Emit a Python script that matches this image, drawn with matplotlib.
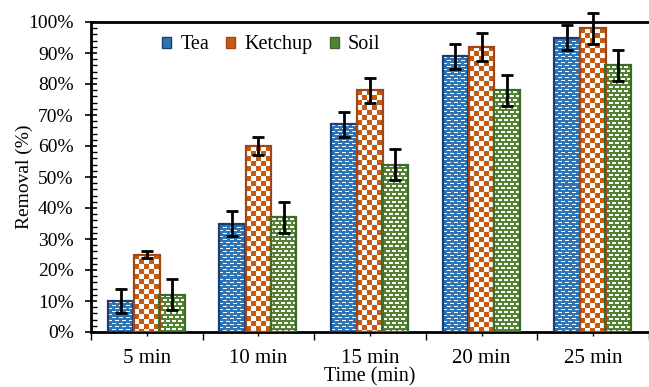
import numpy as np
import matplotlib
matplotlib.use("Agg")
import matplotlib.pyplot as plt
from matplotlib.patches import Patch
from matplotlib.ticker import MultipleLocator, PercentFormatter, FixedLocator

categories = ["5 min", "10 min", "15 min", "20 min", "25 min"]
series_names = ["Tea", "Ketchup", "Soil"]
tea = [10, 35, 67, 89, 95]
tea_err = [4, 4, 4, 4, 4]
ketchup = [25, 60, 78, 92, 98]
ketchup_err = [1, 3, 4, 4.5, 5]
soil = [12, 37, 54, 78, 86]
soil_err = [5, 5, 5, 5, 5]

FACE = {"Tea": "#2E75B6", "Ketchup": "#C55A11", "Soil": "#548235"}
EDGE = {"Tea": "#1F3A6E", "Ketchup": "#A0461A", "Soil": "#3D6B2A"}

plt.rcParams["font.family"] = ["Liberation Serif", "DejaVu Serif"]


def _rgb(hex_color):
    return np.array(matplotlib.colors.to_rgb(hex_color))


def texture(kind, w, h):
    """Pixel pattern used to fill one bar."""
    yy, xx = np.indices((h, w))
    img = np.ones((h, w, 3))
    if kind == "Tea":
        img[:] = _rgb(FACE[kind])
        row = yy % 6
        white = ((row == 1) & (xx % 7 < 4)) | ((row == 4) & ((xx + 3) % 7 < 4))
        img[white] = 1.0
    elif kind == "Ketchup":
        dark = ((xx // 5) + (yy // 5)) % 2 == 0
        img[dark] = _rgb(FACE[kind])
    else:
        img[:] = _rgb(FACE[kind])
        ry, rx = yy % 8, xx % 6
        white = ((ry >= 1) & (ry <= 2) & (rx >= 1) & (rx <= 4)) | \
                ((ry >= 5) & (ry <= 6) & (((xx + 3) % 6) >= 1) & (((xx + 3) % 6) <= 4))
        img[white] = 1.0
    return img


def main():
    fig = plt.figure(figsize=(6.49, 3.87), dpi=100)
    ax = fig.add_axes([91 / 649, 55 / 387, 558 / 649, 310 / 387])

    x = np.arange(len(categories))
    width = 0.23
    offsets = [-0.235, 0.0, 0.225]
    values = [tea, ketchup, soil]
    errors = [tea_err, ketchup_err, soil_err]

    ax.set_xlim(-0.5, len(categories) - 0.5)
    ax.set_ylim(0, 100)

    for name, vals, errs, off in zip(series_names, values, errors, offsets):
        bars = ax.bar(x + off, vals, width, facecolor="none",
                      edgecolor=EDGE[name], linewidth=1.6, zorder=3)
        for b in bars:
            x0, y0 = b.get_x(), b.get_y()
            x1, y1 = x0 + b.get_width(), y0 + b.get_height()
            (px0, py0), (px1, py1) = ax.transData.transform([(x0, y0), (x1, y1)])
            w_px = max(int(round(px1 - px0)), 1)
            h_px = max(int(round(py1 - py0)), 1)
            ax.imshow(texture(name, w_px, h_px), extent=(x0, x1, y0, y1),
                      origin="upper", interpolation="nearest",
                      aspect="auto", zorder=2)
        ax.errorbar(x + off, vals, yerr=errs, fmt="none", ecolor="black",
                    elinewidth=2, capsize=4, capthick=2, zorder=4,
                    clip_on=False)

    ax.set_xlim(-0.5, len(categories) - 0.5)
    ax.set_ylim(0, 100)

    # y axis
    ax.yaxis.set_major_locator(MultipleLocator(10))
    ax.yaxis.set_minor_locator(MultipleLocator(2))
    ax.yaxis.set_major_formatter(PercentFormatter(decimals=0))
    ax.tick_params(axis="y", which="major", direction="inout", length=9,
                   width=1.2, labelsize=14, pad=8)
    ax.tick_params(axis="y", which="minor", direction="in", length=4,
                   width=1.0)

    # x axis: labels at centers, longer ticks at category boundaries
    ax.set_xticks(x)
    ax.set_xticklabels(categories)
    ax.xaxis.set_minor_locator(FixedLocator(np.arange(len(categories) + 1) - 0.5))
    ax.tick_params(axis="x", which="major", direction="out", length=3,
                   width=1.0, labelsize=15, pad=9)
    ax.tick_params(axis="x", which="minor", direction="out", length=6,
                   width=1.0)

    for side in ("left", "bottom", "top"):
        ax.spines[side].set_linewidth(2)
        ax.spines[side].set_color("black")
    ax.spines["right"].set_visible(False)

    ax.set_ylabel("Removal (%)", fontsize=14)
    ax.yaxis.set_label_coords(-0.104, 0.5)
    ax.set_xlabel("Time (min)", fontsize=14.5)
    ax.xaxis.set_label_coords(0.5, -0.113)

    handles = [Patch(facecolor=FACE[n], edgecolor=EDGE[n], linewidth=1.0)
               for n in series_names]
    ax.legend(handles, series_names, ncol=3, frameon=False,
              loc="center left", bbox_to_anchor=(0.128, 0.926),
              prop={"family": ["Liberation Serif"], "size": 14.5},
              handlelength=0.45, handleheight=0.45,
              handletextpad=0.45, columnspacing=0.85, borderpad=0,
              borderaxespad=0)

    fig.savefig("out.png", dpi=100)


if __name__ == "__main__":
    main()
